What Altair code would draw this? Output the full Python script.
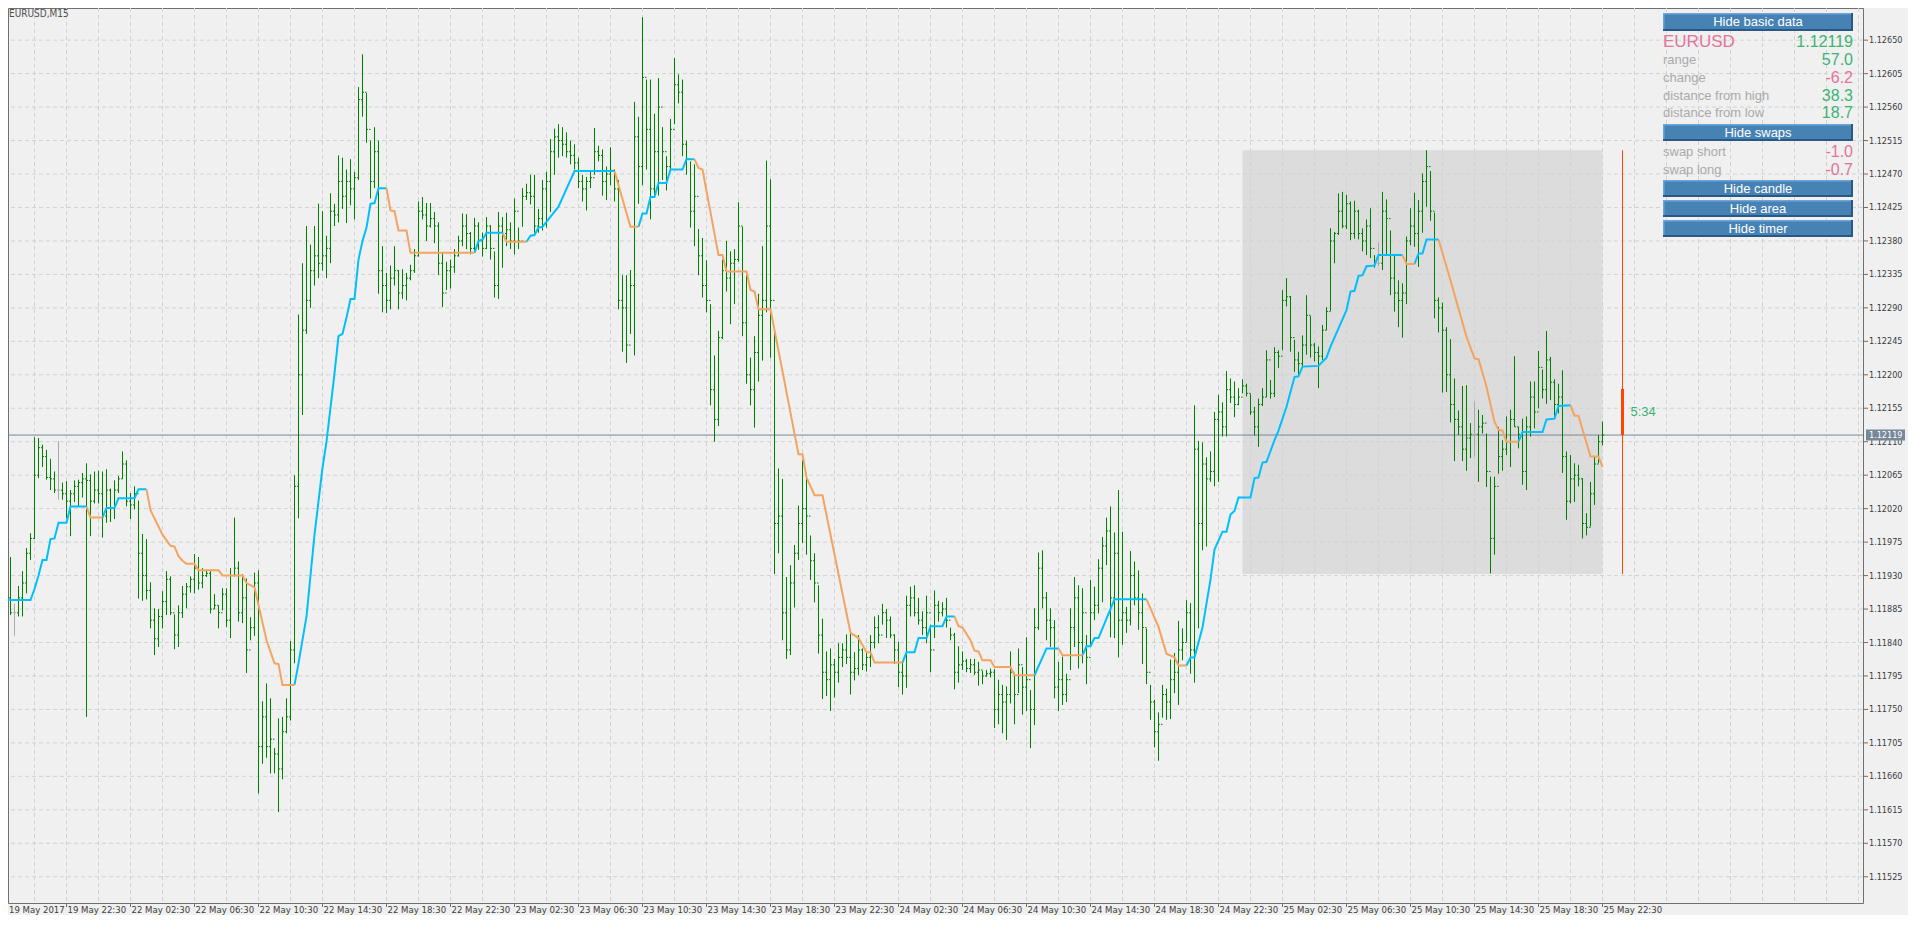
import altair as alt
import pandas as pd

# ------------------------------------------------------------------ data
# EURUSD M15 bars; bar 1 = 19 May 2017 18:45, one bar every 15 minutes.
# Prices are stored in points (0.00001) above BASE.
BASE = 1.11
POINT = 0.00001

HIGH = [
    931, 955, 892, 916, 936, 967, 987, 1116, 1115, 1106,
    1099, 1087, 1070, 1111, 1055, 1057, 1045, 1058, 1059, 1068,
    1081, 1066, 1070, 1071, 1070, 1073, 1047, 1058, 1064, 1097,
    1085, 1041, 1050, 1031, 986, 979, 921, 886, 885, 909,
    936, 929, 878, 890, 916, 920, 929, 959, 955, 940,
    937, 936, 905, 890, 913, 913, 940, 1008, 949, 932,
    926, 874, 934, 937, 761, 785, 765, 698, 738, 740,
    765, 842, 1065, 1281, 1350, 1400, 1375, 1400, 1430, 1420,
    1387, 1444, 1430, 1495, 1492, 1476, 1490, 1473, 1587, 1631,
    1579, 1515, 1533, 1515, 1373, 1337, 1347, 1373, 1341, 1342,
    1337, 1348, 1369, 1433, 1439, 1431, 1431, 1419, 1405, 1364,
    1352, 1355, 1369, 1387, 1417, 1416, 1392, 1411, 1405, 1391,
    1412, 1401, 1366, 1419, 1412, 1418, 1405, 1437, 1398, 1451,
    1457, 1469, 1469, 1423, 1462, 1473, 1517, 1531, 1537, 1533,
    1526, 1515, 1510, 1492, 1469, 1466, 1473, 1532, 1508, 1503,
    1480, 1506, 1476, 1462, 1334, 1334, 1341, 1567, 1547, 1681,
    1597, 1597, 1551, 1599, 1533, 1494, 1544, 1626, 1604, 1597,
    1515, 1487, 1483, 1396, 1384, 1354, 1295, 1226, 1259, 1355,
    1380, 1366, 1369, 1432, 1399, 1334, 1223, 1252, 1309, 1373,
    1488, 1463, 1259, 1074, 1060, 928, 944, 971, 1024, 1085,
    1063, 984, 960, 917, 872, 828, 832, 818, 839, 839,
    851, 857, 827, 850, 832, 827, 850, 875, 877, 892,
    885, 875, 851, 841, 814, 903, 915, 917, 900, 882,
    903, 864, 910, 896, 894, 900, 860, 853, 835, 828,
    818, 818, 818, 814, 802, 803, 805, 804, 790, 783,
    781, 828, 798, 832, 807, 847, 776, 886, 961, 964,
    908, 886, 870, 814, 821, 798, 886, 928, 917, 913,
    850, 924, 915, 952, 982, 1008, 1023, 988, 1045, 989,
    888, 963, 949, 937, 906, 859, 783, 763, 746, 783,
    778, 817, 826, 869, 859, 897, 893, 1159, 1111, 1109,
    1089, 1097, 1150, 1173, 1163, 1205, 1195, 1191, 1182, 1194,
    1188, 1174, 1157, 1168, 1182, 1233, 1193, 1237, 1233, 1314,
    1330, 1306, 1247, 1231, 1253, 1307, 1279, 1243, 1238, 1267,
    1291, 1397, 1392, 1444, 1446, 1442, 1433, 1434, 1422, 1397,
    1409, 1424, 1361, 1378, 1446, 1436, 1394, 1361, 1327, 1323,
    1386, 1424, 1445, 1435, 1471, 1502, 1474, 1418, 1304, 1297,
    1264, 1248, 1195, 1152, 1185, 1186, 1135, 1164, 1153, 1146,
    1121, 1063, 1063, 1130, 1112, 1144, 1153, 1225, 1130, 1141,
    1144, 1191, 1191, 1232, 1207, 1259, 1224, 1194, 1188, 1206,
    1097, 1092, 1081, 1079, 1061, 1014, 1056, 1090, 1119, 1137,
]

LOW = [
    870, 877, 849, 875, 875, 906, 951, 979, 1061, 1076,
    1059, 1045, 1041, 1032, 1032, 1007, 983, 1029, 1023, 1035,
    740, 983, 1027, 1027, 981, 1001, 1002, 1006, 1041, 1060,
    1023, 1006, 1019, 899, 896, 898, 859, 823, 834, 859,
    877, 877, 831, 834, 873, 886, 907, 906, 911, 913,
    928, 879, 885, 859, 883, 861, 846, 929, 868, 866,
    799, 843, 849, 637, 677, 685, 664, 664, 612, 656,
    718, 735, 812, 1007, 1146, 1255, 1290, 1320, 1330, 1340,
    1330, 1350, 1400, 1405, 1423, 1404, 1428, 1409, 1462, 1547,
    1512, 1437, 1451, 1309, 1284, 1283, 1288, 1320, 1288, 1302,
    1300, 1327, 1337, 1359, 1409, 1380, 1398, 1377, 1334, 1291,
    1314, 1316, 1337, 1359, 1373, 1369, 1362, 1366, 1368, 1359,
    1369, 1355, 1304, 1302, 1344, 1373, 1369, 1362, 1369, 1399,
    1435, 1429, 1391, 1391, 1394, 1398, 1419, 1469, 1492, 1494,
    1492, 1483, 1476, 1451, 1433, 1421, 1451, 1469, 1487, 1441,
    1435, 1455, 1433, 1288, 1231, 1216, 1255, 1226, 1430, 1455,
    1476, 1409, 1441, 1441, 1462, 1448, 1476, 1537, 1565, 1494,
    1469, 1398, 1373, 1334, 1304, 1284, 1159, 1110, 1131, 1248,
    1312, 1268, 1295, 1352, 1252, 1188, 1159, 1129, 1191, 1219,
    1284, 1223, 932, 960, 843, 818, 823, 887, 951, 974,
    958, 924, 894, 825, 764, 768, 748, 766, 786, 807,
    811, 770, 789, 796, 803, 801, 807, 832, 839, 864,
    846, 846, 811, 780, 770, 779, 875, 875, 864, 850,
    839, 800, 846, 868, 875, 860, 843, 777, 786, 803,
    800, 799, 796, 782, 784, 794, 793, 725, 730, 718,
    709, 758, 730, 772, 743, 748, 698, 729, 857, 886,
    843, 834, 765, 748, 756, 760, 803, 834, 805, 812,
    784, 834, 870, 879, 894, 944, 847, 846, 820, 837,
    853, 863, 890, 857, 811, 784, 736, 699, 681, 739,
    736, 737, 772, 756, 816, 841, 798, 786, 859, 964,
    969, 1056, 1050, 1056, 1117, 1117, 1162, 1143, 1159, 1175,
    1171, 1146, 1118, 1103, 1158, 1170, 1168, 1170, 1209, 1233,
    1292, 1231, 1204, 1198, 1211, 1227, 1223, 1218, 1182, 1220,
    1260, 1286, 1350, 1388, 1397, 1396, 1381, 1383, 1382, 1366,
    1361, 1357, 1344, 1346, 1341, 1361, 1307, 1285, 1264, 1250,
    1295, 1374, 1372, 1345, 1391, 1426, 1407, 1276, 1257, 1176,
    1177, 1136, 1084, 1119, 1084, 1071, 1088, 1090, 1056, 1121,
    1049, 933, 958, 1067, 1071, 1092, 1076, 1130, 1101, 1052,
    1045, 1117, 1128, 1155, 1168, 1161, 1166, 1144, 1148, 1068,
    1005, 1027, 1029, 1050, 980, 984, 996, 1025, 1081, 1105,
]

CLOSE = [
    900, 880, 880, 900, 920, 960, 980, 1065, 1102, 1090,
    1062, 1060, 1045, 1045, 1040, 1030, 1040, 1050, 1055, 1060,
    1058, 1030, 1045, 1040, 1010, 1045, 1020, 1045, 1060, 1080,
    1030, 1025, 1040, 960, 930, 910, 870, 845, 875, 895,
    925, 880, 850, 880, 905, 915, 925, 940, 920, 930,
    933, 885, 890, 880, 905, 870, 930, 940, 880, 900,
    830, 860, 920, 700, 740, 700, 710, 690, 670, 720,
    740, 830, 1050, 1200, 1260, 1300, 1340, 1360, 1350, 1360,
    1370, 1420, 1415, 1460, 1440, 1460, 1450, 1465, 1570, 1580,
    1530, 1460, 1500, 1340, 1320, 1300, 1330, 1340, 1310, 1320,
    1330, 1340, 1360, 1420, 1415, 1400, 1410, 1400, 1350, 1310,
    1340, 1345, 1360, 1380, 1400, 1390, 1370, 1400, 1380, 1370,
    1400, 1370, 1320, 1400, 1390, 1395, 1380, 1420, 1380, 1440,
    1445, 1440, 1400, 1410, 1450, 1460, 1500, 1520, 1515, 1510,
    1500, 1495, 1485, 1460, 1450, 1460, 1465, 1500, 1495, 1460,
    1470, 1475, 1450, 1300, 1290, 1240, 1320, 1520, 1480, 1600,
    1530, 1450, 1500, 1560, 1500, 1480, 1530, 1590, 1580, 1510,
    1490, 1420, 1440, 1360, 1320, 1300, 1180, 1140, 1250, 1340,
    1330, 1350, 1355, 1400, 1270, 1200, 1180, 1230, 1280, 1300,
    1400, 1300, 1000, 1010, 880, 830, 920, 960, 1000, 1020,
    1010, 950, 920, 850, 800, 790, 810, 800, 820, 830,
    820, 800, 805, 830, 810, 820, 840, 860, 850, 880,
    870, 850, 830, 800, 795, 890, 900, 880, 870, 860,
    880, 830, 890, 880, 885, 870, 850, 800, 810, 815,
    805, 810, 800, 803, 795, 798, 800, 750, 770, 760,
    770, 800, 770, 810, 780, 790, 750, 860, 940, 900,
    870, 860, 780, 790, 770, 790, 860, 900, 840, 880,
    820, 880, 890, 940, 970, 990, 900, 960, 870, 880,
    870, 930, 900, 880, 860, 800, 760, 720, 730, 770,
    760, 790, 800, 830, 840, 880, 830, 1100, 1000, 1080,
    1060, 1070, 1140, 1150, 1130, 1180, 1170, 1160, 1170, 1185,
    1175, 1150, 1130, 1160, 1170, 1220, 1175, 1230, 1225, 1300,
    1305, 1250, 1220, 1215, 1240, 1280, 1240, 1230, 1225, 1260,
    1285, 1380, 1390, 1420, 1400, 1430, 1390, 1420, 1390, 1380,
    1400, 1370, 1350, 1350, 1420, 1410, 1330, 1310, 1300, 1310,
    1380, 1400, 1390, 1420, 1460, 1480, 1420, 1300, 1290, 1260,
    1200, 1160, 1140, 1130, 1100, 1115, 1120, 1120, 1130, 1135,
    1070, 980, 1050, 1090, 1100, 1110, 1140, 1130, 1120, 1070,
    1130, 1170, 1150, 1210, 1180, 1220, 1190, 1160, 1170, 1090,
    1030, 1060, 1065, 1060, 1000, 995, 1040, 1080, 1110, 1119,
]
FIRST_OPEN = 890
DOJI_BARS = [3, 14, 344, 368]

# trailing step line: vertices (bar, points); MA_UP = 1 rising (blue), 0 falling (orange)
MA_BAR = [
    0, 1, 7, 8, 9, 10, 11, 12, 13, 14, 16, 17, 21,
    22, 25,
    26, 28, 29, 33, 34, 36,
    37, 40, 42, 43, 44, 45, 46, 48, 49, 54, 55, 60, 61, 63, 66, 68, 69, 70, 73,
    74, 76, 78, 79, 80, 81, 82, 83, 84, 85, 86, 87, 88, 89, 90, 91, 92, 93, 94, 96,
    97, 98, 99, 101, 102, 118,
    119, 120, 121, 125,
    126, 131,
    132, 133, 134, 135, 139, 143, 153,
    154, 157, 159,
    160, 161, 162, 163, 164, 166, 167, 170, 171, 173,
    174, 175, 179, 180, 181, 186, 187, 188, 189, 192, 199, 200, 201, 203, 205, 207,
    212, 214, 216, 217, 218, 225,
    226, 228, 229, 231, 232, 235, 236, 238,
    239, 240, 242, 243, 244, 245, 247, 248, 252, 253, 258,
    261, 264,
    265, 270,
    271, 272, 273, 274, 278, 286,
    289, 291, 293, 294, 296,
    297, 298, 300, 302, 303, 305, 306, 307, 308, 309, 312, 313, 314, 315, 316, 318,
    319, 321, 323, 324, 325, 329, 331, 332, 336, 337, 338, 339, 340, 341, 343, 344, 350,
    351, 353,
    354, 355, 356, 359,
    362, 366, 368, 369, 371, 373, 374, 375, 376, 379,
    380, 385, 386, 388, 389, 392,
    393, 394, 397, 399, 400,
]
MA_PTS = [
    887, 897, 897, 912, 930, 951, 951, 979, 980, 1001, 1001, 1023, 1023,
    1008, 1008,
    1021, 1021, 1034, 1034, 1046, 1046,
    1018, 985, 970, 969, 956, 950, 946, 946, 937, 937, 930, 930, 920, 914, 843, 812, 811, 783, 783,
    812, 875, 985, 1030, 1075, 1110, 1156, 1202, 1252, 1255, 1277, 1302, 1302, 1355, 1380, 1398, 1430, 1431, 1451, 1451,
    1421, 1420, 1394, 1394, 1364, 1364,
    1380, 1382, 1391, 1391,
    1379, 1379,
    1387, 1388, 1398, 1399, 1426, 1474, 1474,
    1455, 1399, 1399,
    1417, 1417, 1439, 1439, 1458, 1458, 1476, 1476, 1490, 1490,
    1478, 1476, 1361, 1361, 1339, 1339, 1314, 1312, 1288, 1288, 1093, 1093, 1062, 1038, 1038, 985,
    853, 846, 827, 827, 813, 813,
    827, 827, 846, 846, 862, 862, 875, 875,
    862, 860, 843, 829, 828, 816, 816, 807, 807, 796, 796,
    832, 832,
    823, 823,
    835, 835, 846, 846, 898, 898,
    861, 825, 820, 809, 809,
    820, 820, 860, 925, 965, 989, 989, 1012, 1017, 1035, 1035, 1061, 1062, 1082, 1083, 1112,
    1125, 1157, 1197, 1198, 1211, 1212, 1223, 1238, 1287, 1312, 1313, 1333, 1334, 1346, 1347, 1361, 1361,
    1349, 1349,
    1363, 1363, 1382, 1382,
    1327, 1251, 1222, 1221, 1184, 1137, 1126, 1125, 1110, 1110,
    1123, 1123, 1140, 1141, 1158, 1159,
    1145, 1145, 1090, 1090, 1076,
]
MA_UP = (
    [1] * 13 + [0] * 2 + [1] * 6 + [0] * 19 + [1] * 20 + [0] * 6 + [1] * 4 + [0] * 2
    + [1] * 7 + [0] * 3 + [1] * 10 + [0] * 22 + [1] * 8 + [0] * 11 + [1] * 2 + [0] * 2
    + [1] * 6 + [0] * 5 + [1] * 33 + [0] * 2 + [1] * 4 + [0] * 10 + [1] * 6 + [0] * 5
)

LAST_PRICE = 1.12119
DAY_HIGH = 1.12502
DAY_LOW = 1.11932
CANDLE_OPEN = 1.12181
AREA_FROM_BAR = 310
AREA_TO_BAR = 400
CANDLE_BAR = 405
TIMER_TEXT = "5:34"
CHART_TITLE = "EURUSD,M15"

X_LABELS = [
    "19 May 2017", "19 May 22:30", "22 May 02:30", "22 May 06:30", "22 May 10:30",
    "22 May 14:30", "22 May 18:30", "22 May 22:30", "23 May 02:30", "23 May 06:30",
    "23 May 10:30", "23 May 14:30", "23 May 18:30", "23 May 22:30", "24 May 02:30",
    "24 May 06:30", "24 May 10:30", "24 May 14:30", "24 May 18:30", "24 May 22:30",
    "25 May 02:30", "25 May 06:30", "25 May 10:30", "25 May 14:30", "25 May 18:30",
    "25 May 22:30",
]
X_LABEL_STEP = 16      # bars between time labels
X_GRID_STEP = 8        # bars between vertical grid lines
Y_TICKS = [
    1.11525, 1.11570, 1.11615, 1.11660, 1.11705, 1.11750, 1.11795, 1.11840, 1.11885,
    1.11930, 1.11975, 1.12020, 1.12065, 1.12110, 1.12155, 1.12200, 1.12245, 1.12290,
    1.12335, 1.12380, 1.12425, 1.12470, 1.12515, 1.12560, 1.12605, 1.12650, 1.12695,
]

PANEL_SYMBOL = "EURUSD"
PANEL_PRICE = "1.12119"
ROW_LABELS = ["range", "change", "distance from high", "distance from low"]
ROW_VALUES = [57.0, -6.2, 38.3, 18.7]
SWAP_LABELS = ["swap short", "swap long"]
SWAP_VALUES = [-1.0, -0.7]
BUTTONS = ["Hide basic data", "Hide swaps", "Hide candle", "Hide area", "Hide timer"]

# ------------------------------------------------------------------ layout / style
W, H = 1855, 895
X_DOM = [1.375, 465.125]
Y_DOM = [1.114897, 1.1269325]
BG = "#F0F0F0"
FRAME = "#707070"
GRID = "#D2D2D2"
AXIS_TXT = "#3C3C3C"
BAR_GREEN = "#008000"
DOJI_GRAY = "#A9A9A9"
UP_BLUE = "#00BFFF"
DOWN_ORANGE = "#F4A460"
CANDLE_RED = "#FF4500"
PRICE_LINE = "#778899"
POS = "#3CB371"
NEG = "#E3739B"
LABEL_GRAY = "#AAAAAA"
BTN = "#4682B4"
BTN_LIGHT = "#6FA5D8"
BTN_DARK = "#2A5884"
AX_FONT = "'DejaVu Sans Condensed', 'Liberation Sans Narrow', 'DejaVu Sans', sans-serif"
UI_FONT = "'Liberation Sans', Arial, sans-serif"

xs = alt.Scale(domain=X_DOM, nice=False, zero=False)
ys = alt.Scale(domain=Y_DOM, nice=False, zero=False)


def to_price(pts):
    return [round(BASE + p * POINT, 5) for p in pts]


n = len(HIGH)
bars = pd.DataFrame({
    "bar": list(range(1, n + 1)),
    "high": to_price(HIGH),
    "low": to_price(LOW),
    "close": to_price(CLOSE),
    "open": to_price([FIRST_OPEN] + CLOSE[:-1]),
})
bars["doji"] = bars["bar"].isin(DOJI_BARS)
bars.loc[bars["doji"], "open"] = bars.loc[bars["doji"], "close"]
bars["ox"] = bars["bar"] - 0.375
bars["cx"] = bars["bar"] + 0.375
normal = bars[~bars["doji"]]
doji = bars[bars["doji"]]

rows = []
run = 0
for k, (b, v, u) in enumerate(zip(MA_BAR, MA_PTS, MA_UP)):
    if k > 0 and u != MA_UP[k - 1]:
        run += 1
        rows.append({"bar": MA_BAR[k - 1], "ma": round(BASE + MA_PTS[k - 1] * POINT, 5), "run": run, "up": u})
    rows.append({"bar": b, "ma": round(BASE + v * POINT, 5), "run": run, "up": u})
ma = pd.DataFrame(rows)
ma_up = ma[ma["up"] == 1]
ma_dn = ma[ma["up"] == 0]

vgrid = pd.DataFrame({"bar": list(range(X_GRID_STEP, int(X_DOM[1]) + 1, X_GRID_STEP))})
hgrid = pd.DataFrame({"price": Y_TICKS})
ylab_vals = [t for t in Y_TICKS if Y_DOM[0] <= t <= Y_DOM[1]]
ylab = pd.DataFrame({"price": ylab_vals, "t": ["%.5f" % t for t in ylab_vals]})
xlab = pd.DataFrame({"bar": [i * X_LABEL_STEP for i in range(1, len(X_LABELS))], "t": X_LABELS[1:]})

one = pd.DataFrame({"k": [0]})
area = pd.DataFrame({"x0": [AREA_FROM_BAR], "x1": [AREA_TO_BAR], "lo": [DAY_LOW], "hi": [DAY_HIGH]})
candle = pd.DataFrame({"bar": [CANDLE_BAR], "lo": [DAY_LOW], "hi": [DAY_HIGH], "o": [CANDLE_OPEN],
                       "c": [LAST_PRICE], "mid": [(CANDLE_OPEN + LAST_PRICE) / 2], "t": [TIMER_TEXT]})
last = pd.DataFrame({"p": [LAST_PRICE], "t": ["%.5f" % LAST_PRICE]})

XN = lambda f: alt.X(f, type="quantitative", scale=xs, axis=None)
YN = lambda f: alt.Y(f, type="quantitative", scale=ys, axis=None)

layers = []
layers.append(alt.Chart(area).mark_rect(color="#DCDCDC").encode(
    x=XN("x0"), x2="x1", y=YN("lo"), y2="hi"))
layers.append(alt.Chart(vgrid).mark_rule(color=GRID, strokeDash=[4, 3], strokeWidth=1, clip=True).encode(
    x=XN("bar")))
layers.append(alt.Chart(hgrid).mark_rule(color=GRID, strokeDash=[4, 3], strokeWidth=1, clip=True).encode(
    y=YN("price")))
layers.append(alt.Chart(last).mark_rule(color=PRICE_LINE, strokeWidth=1).encode(y=YN("p")))

for df, col in ((normal, BAR_GREEN), (doji, DOJI_GRAY)):
    layers.append(alt.Chart(df).mark_rule(color=col, strokeWidth=1, clip=True).encode(
        x=XN("bar"), y=YN("low"), y2="high"))
    layers.append(alt.Chart(df).mark_rule(color=col, strokeWidth=1, clip=True).encode(
        x=XN("ox"), x2="bar", y=YN("open")))
    layers.append(alt.Chart(df).mark_rule(color=col, strokeWidth=1, clip=True).encode(
        x=XN("bar"), x2="cx", y=YN("close")))

for df, col in ((ma_up, UP_BLUE), (ma_dn, DOWN_ORANGE)):
    layers.append(alt.Chart(df).mark_line(color=col, strokeWidth=2, clip=True).encode(
        x=XN("bar"), y=YN("ma"), detail="run:N", order="bar:Q"))

layers.append(alt.Chart(candle).mark_rule(color=CANDLE_RED, strokeWidth=1).encode(
    x=XN("bar"), y=YN("lo"), y2="hi"))
layers.append(alt.Chart(candle).mark_rule(color=CANDLE_RED, strokeWidth=3).encode(
    x=XN("bar"), y=YN("o"), y2="c"))
layers.append(alt.Chart(candle).mark_text(color=POS, fontSize=13, font=UI_FONT, align="left",
                                          baseline="middle", dx=8).encode(
    x=XN("bar"), y=YN("mid"), text="t:N"))

# price axis (right) and time axis (bottom)
layers.append(alt.Chart(ylab).mark_rule(color=FRAME, strokeWidth=1).encode(
    x=alt.value(W), x2=alt.value(W + 5), y=YN("price")))
layers.append(alt.Chart(ylab).mark_text(color=AXIS_TXT, fontSize=9, font=AX_FONT, align="left",
                                        baseline="middle").encode(
    x=alt.value(W + 6), y=YN("price"), text="t:N"))
layers.append(alt.Chart(xlab).mark_rule(color=FRAME, strokeWidth=1).encode(
    x=XN("bar"), y=alt.value(H), y2=alt.value(H + 4)))
layers.append(alt.Chart(xlab).mark_text(color=AXIS_TXT, fontSize=9.5, font=AX_FONT, align="left",
                                        baseline="top", dx=1).encode(
    x=XN("bar"), y=alt.value(H + 1.5), text="t:N"))

# price tag on the right axis
layers.append(alt.Chart(last).mark_rect(color=PRICE_LINE, yOffset=-5.5, y2Offset=5.5).encode(
    x=alt.value(W + 3), x2=alt.value(W + 42), y=YN("p"), y2="p"))
layers.append(alt.Chart(last).mark_text(color="white", fontSize=9, font=AX_FONT, align="left",
                                        baseline="middle").encode(
    x=alt.value(W + 6), y=YN("p"), text="t:N"))


def txt(s, x, y, size, color, align="left", font=UI_FONT, baseline="middle"):
    return alt.Chart(one).mark_text(align=align, baseline=baseline, fontSize=size, font=font,
                                    color=color).encode(x=alt.value(x), y=alt.value(y), text=alt.value(s))


def rect(x0, x1, y0, y1, color):
    return alt.Chart(one).mark_rect(color=color).encode(
        x=alt.value(x0), x2=alt.value(x1), y=alt.value(y0), y2=alt.value(y1))


layers.append(txt(CHART_TITLE, 1, 5.5, 10, "#505050", font=AX_FONT))
layers.append(txt(X_LABELS[0], 1, H + 1.5, 9.5, AXIS_TXT, font=AX_FONT, baseline="top"))

# info panel
PX0, PX1 = 1655, 1845
BTN_Y = [(5, 23), (116, 133), (172, 189), (192, 209), (212, 229)]
for label, (t, b) in zip(BUTTONS, BTN_Y):
    layers.append(rect(PX0, PX1, t, b, BTN))
    layers.append(rect(PX0, PX1, t, t + 1.5, BTN_LIGHT))
    layers.append(rect(PX0, PX0 + 1.5, t, b, BTN_LIGHT))
    layers.append(rect(PX0, PX1, b - 2, b, BTN_DARK))
    layers.append(rect(PX1 - 2, PX1, t, b, BTN_DARK))
    layers.append(txt(label, (PX0 + PX1) / 2, (t + b) / 2, 13, "white", align="center"))

layers.append(txt(PANEL_SYMBOL, PX0, 34, 17, NEG))
layers.append(txt(PANEL_PRICE, PX1, 34, 16, POS, align="right"))
for lab, val, y in zip(ROW_LABELS + SWAP_LABELS, ROW_VALUES + SWAP_VALUES, [52, 70, 88, 105, 144, 162]):
    layers.append(txt(lab, PX0, y, 13, LABEL_GRAY))
    layers.append(txt("%.1f" % val, PX1, y, 16, POS if val >= 0 else NEG, align="right"))

chart = alt.layer(*layers).properties(
    width=W, height=H,
    padding={"left": 0, "top": 0, "right": 45, "bottom": 12},
    autosize=alt.AutoSizeParams(type="none"),
    background=BG,
).configure_view(stroke=FRAME, strokeWidth=1, fill=BG)

chart.save("out.html", embed_options={"renderer": "svg", "actions": False})
